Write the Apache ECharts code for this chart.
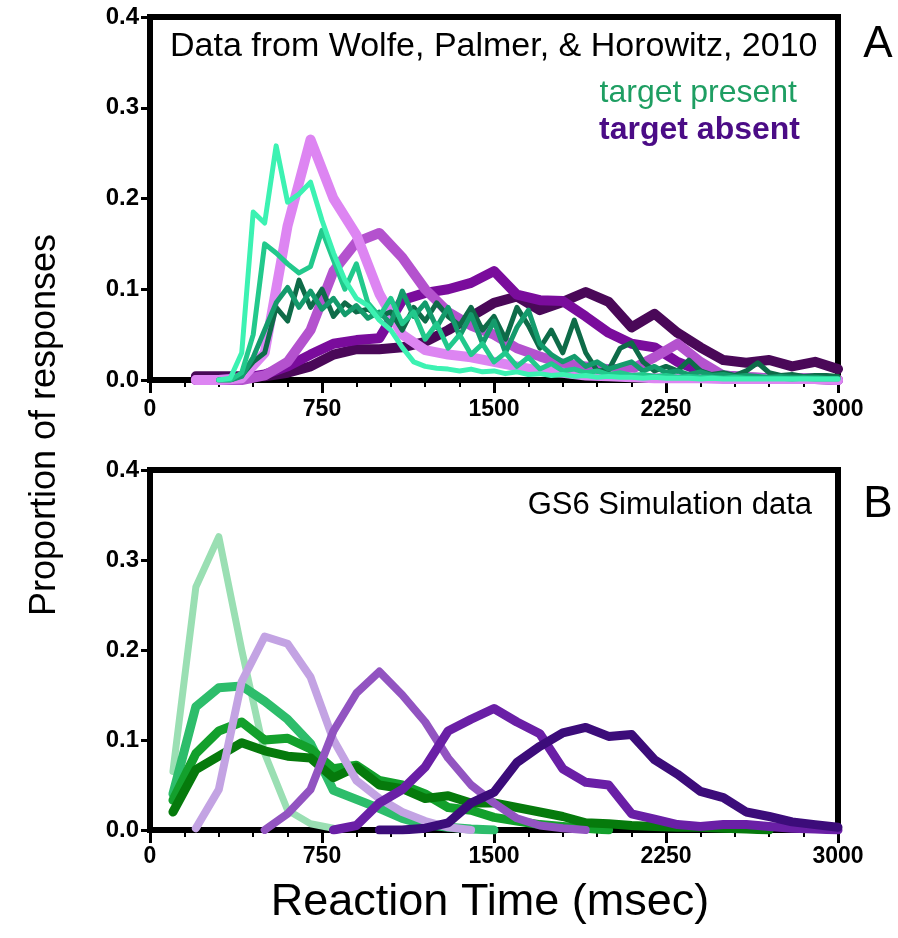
<!DOCTYPE html>
<html><head><meta charset="utf-8">
<script src="https://cdn.jsdelivr.net/npm/echarts@6/dist/echarts.min.js"></script>
<style>html,body{margin:0;padding:0;background:#fff}#c{width:898px;height:938px}</style>
</head><body><div id="c"></div><script>
// ---------- Tick labels ----------
const xTickValues = [0, 750, 1500, 2250, 3000];
const yTickValues = [0.0, 0.1, 0.2, 0.3, 0.4];

// ---------- Panel A: data (Wolfe, Palmer & Horowitz, 2010) ----------
// target present: 50 ms bins
const aPresentX = [300,350,400,450,500,550,600,650,700,750,800,850,900,950,1000,1050,1100,1150,1200,1250,1300,1350,1400,1450,1500,1550,1600,1650,1700,1750,1800,1850,1900,1950,2000,2050,2100,2150,2200,2250,2300,2350,2400,2450,2500,2550,2600,2650,2700,2750,2800,2850,2900,2950,3000];
const aPresent1 = [0,0.002,0.03,0.185,0.173,0.258,0.196,0.205,0.218,0.176,0.14,0.11,0.09,0.082,0.066,0.055,0.036,0.02,0.015,0.013,0.012,0.01,0.012,0.009,0.01,0.007,0.009,0.006,0.007,0.005,0.006,0.004,0.005,0.003,0.004,0.003,0.003,0.002,0.003,0.002,0.002,0.002,0.001,0.002,0.001,0.001,0.001,0.001,0.001,0.001,0.001,0.001,0.001,0.001,0.001];
const aPresent2 = [0,0,0.008,0.05,0.15,0.14,0.128,0.118,0.125,0.165,0.132,0.1,0.128,0.085,0.07,0.09,0.062,0.075,0.045,0.062,0.035,0.05,0.028,0.04,0.02,0.03,0.015,0.025,0.012,0.018,0.01,0.012,0.008,0.01,0.006,0.008,0.005,0.006,0.004,0.005,0.003,0.004,0.003,0.003,0.002,0.003,0.002,0.002,0.002,0.002,0.001,0.002,0.001,0.001,0.001];
const aPresent3 = [0,0,0.004,0.025,0.055,0.085,0.102,0.08,0.098,0.078,0.09,0.072,0.082,0.068,0.075,0.062,0.098,0.07,0.085,0.058,0.08,0.048,0.072,0.04,0.065,0.03,0.058,0.077,0.04,0.028,0.02,0.026,0.015,0.02,0.012,0.016,0.02,0.01,0.015,0.008,0.01,0.006,0.009,0.005,0.006,0.004,0.005,0.004,0.003,0.004,0.003,0.003,0.003,0.002,0.002];
const aPresent4 = [0,0,0.005,0.02,0.03,0.08,0.065,0.11,0.08,0.1,0.07,0.085,0.075,0.078,0.07,0.075,0.055,0.08,0.065,0.085,0.07,0.06,0.08,0.055,0.07,0.045,0.08,0.06,0.035,0.055,0.03,0.066,0.03,0.01,0.011,0.035,0.041,0.02,0.01,0.015,0.01,0.022,0.01,0.006,0.008,0.005,0.01,0.019,0.008,0.005,0.006,0.004,0.005,0.005,0.004];
// target absent: 100 ms bins
const aAbsentX = [200,300,400,500,600,700,800,900,1000,1100,1200,1300,1400,1500,1600,1700,1800,1900,2000,2100,2200,2300,2400,2500,2600,2700,2800,2900,3000];
const aAbsent1 = [0,0,0.002,0.03,0.17,0.265,0.2,0.16,0.095,0.05,0.033,0.028,0.025,0.02,0.015,0.01,0.008,0.005,0.004,0.003,0.002,0.002,0.002,0.001,0.001,0.001,0.001,0.001,0];
const aAbsent2 = [0,0,0,0.005,0.02,0.055,0.12,0.152,0.162,0.135,0.1,0.075,0.06,0.05,0.035,0.026,0.018,0.015,0.012,0.012,0.025,0.04,0.02,0.005,0.003,0.002,0.002,0.002,0];
const aAbsent3 = [0,0,0.002,0.006,0.015,0.028,0.04,0.044,0.046,0.088,0.096,0.1,0.107,0.12,0.094,0.088,0.087,0.07,0.052,0.04,0.036,0.02,0.01,0.005,0.003,0.002,0.002,0.001,0];
const aAbsent4 = [0.004,0.004,0.004,0.004,0.008,0.015,0.028,0.034,0.034,0.036,0.042,0.055,0.07,0.085,0.092,0.077,0.086,0.097,0.086,0.058,0.073,0.052,0.036,0.022,0.019,0.022,0.015,0.02,0.012];

// ---------- Panel B: GS6 simulation data (100 ms bins) ----------
const bX = [100,200,300,400,500,600,700,800,900,1000,1100,1200,1300,1400,1500,1600,1700,1800,1900,2000,2100,2200,2300,2400,2500,2600,2700,2800,2900,3000];
const bPresent1 = [0.065,0.27,0.326,0.2,0.085,0.022,0.007,0.002,null,null,null,null,null,null,null,null,null,null,null,null,null,null,null,null,null,null,null,null,null,null];
const bPresent2 = [0.04,0.137,0.158,0.16,0.143,0.123,0.096,0.044,0.034,0.024,0.013,0.006,0.003,0.001,0,null,null,null,null,null,null,null,null,null,null,null,null,null,null,null];
const bPresent3 = [0.033,0.085,0.11,0.12,0.1,0.102,0.09,0.068,0.072,0.055,0.05,0.04,0.025,0.022,0.014,0.01,0.006,0.004,0.002,0,null,null,null,null,null,null,null,null,null,null];
const bPresent4 = [0.02,0.067,0.082,0.097,0.088,0.082,0.08,0.058,0.07,0.05,0.046,0.035,0.038,0.03,0.03,0.025,0.02,0.015,0.008,0.007,0.005,0.004,0.003,0.003,0.002,0.001,0,null,null,null];
const bAbsent1 = [null,0.002,0.045,0.165,0.215,0.207,0.17,0.1,0.055,0.035,0.02,0.01,0.003,0,null,null,null,null,null,null,null,null,null,null,null,null,null,null,null,null];
const bAbsent2 = [null,null,null,null,0,0.018,0.045,0.11,0.152,0.176,0.15,0.12,0.08,0.05,0.03,0.013,0.005,0.002,0,null,null,null,null,null,null,null,null,null,null,null];
const bAbsent3 = [null,null,null,null,null,null,null,0,0.005,0.03,0.045,0.07,0.11,0.123,0.135,0.12,0.107,0.068,0.053,0.05,0.018,0.012,0.006,0.004,0.006,0.006,0.004,0.002,0.001,0];
const bAbsent4 = [null,null,null,null,null,null,null,null,null,0,0,0.002,0.008,0.03,0.042,0.075,0.093,0.108,0.114,0.104,0.106,0.078,0.062,0.043,0.036,0.02,0.015,0.009,0.006,0.003];

const FONT = '"Liberation Sans", Arial, Helvetica, sans-serif';
function pairs(xs, ys) { return xs.map((x, i) => [x, ys[i] == null ? null : ys[i]]); }
function line(grid, xs, ys, color, width, z) {
  return { type: 'line', xAxisIndex: grid, yAxisIndex: grid, data: pairs(xs, ys), showSymbol: false, symbol: 'none',
    connectNulls: false, animation: false, z: z,
    lineStyle: { color: color, width: width, join: 'round', cap: 'round' } };
}
function xAx(grid, margin) {
  return { gridIndex: grid, type: 'value', min: xTickValues[0], max: xTickValues[xTickValues.length - 1],
    interval: xTickValues[1] - xTickValues[0],
    axisLine: { show: false }, splitLine: { show: false },
    axisTick: { show: true, length: 13, lineStyle: { color: '#000', width: 3 } },
    minorTick: { show: true, splitNumber: 5, length: 7, lineStyle: { color: '#000', width: 2 } },
    axisLabel: { fontSize: 23, fontWeight: 'bold', color: '#000', fontFamily: FONT, margin: margin,
      formatter: v => String(v) } };
}
function yAx(grid) {
  return { gridIndex: grid, type: 'value', min: yTickValues[0], max: yTickValues[yTickValues.length - 1],
    interval: yTickValues[1] - yTickValues[0],
    axisLine: { show: false }, splitLine: { show: false },
    axisTick: { show: true, length: 9, lineStyle: { color: '#000', width: 3 } },
    axisLabel: { fontSize: 24, fontWeight: 'bold', color: '#000', fontFamily: FONT, margin: 11,
      formatter: v => v.toFixed(1) } };
}
function txt(x, y, text, size, color, align, weight, rot) {
  return { type: 'text', x: x, y: y, rotation: rot || 0, z: 100,
    style: { text: text, x: 0, y: 0, fill: color, align: align, textAlign: align,
      verticalAlign: 'middle', textVerticalAlign: 'middle',
      font: (weight || 'normal') + ' ' + size + 'px ' + FONT } };
}

const chart = echarts.init(document.getElementById('c'), null, { renderer: 'canvas' });
chart.setOption({
  backgroundColor: '#fff',
  animation: false,
  grid: [
    { left: 150, top: 17, width: 688, height: 363, show: true, borderColor: '#000', borderWidth: 6, backgroundColor: '#fff' },
    { left: 150, top: 470, width: 688, height: 360, show: true, borderColor: '#000', borderWidth: 6, backgroundColor: '#fff' }
  ],
  xAxis: [xAx(0, 18), xAx(1, 15)],
  yAxis: [yAx(0), yAx(1)],
  series: [
    line(0, aAbsentX, aAbsent4, '#4A0858', 10, 2),
    line(0, aAbsentX, aAbsent3, '#7A0C9C', 10, 2),
    line(0, aAbsentX, aAbsent2, '#B452CE', 10, 2),
    line(0, aAbsentX, aAbsent1, '#DD85F2', 10, 2),
    line(0, aPresentX, aPresent4, '#0E6B48', 5, 3),
    line(0, aPresentX, aPresent3, '#149B6C', 5, 3),
    line(0, aPresentX, aPresent2, '#22C98C', 5, 3),
    line(0, aPresentX, aPresent1, '#3CF2B2', 5, 3),
    line(1, bX, bPresent1, '#9ADFB3', 7, 2),
    line(1, bX, bPresent2, '#2DBD6B', 9, 2),
    line(1, bX, bPresent3, '#13A02C', 9, 2),
    line(1, bX, bPresent4, '#067A0C', 9, 2),
    line(1, bX, bAbsent1, '#C3A3E3', 8, 3),
    line(1, bX, bAbsent2, '#9254C1', 8, 3),
    line(1, bX, bAbsent3, '#6A1FA6', 9, 3),
    line(1, bX, bAbsent4, '#3C0C7A', 9, 3)
  ],
  graphic: [
    txt(170, 47, 'Data from Wolfe, Palmer, & Horowitz, 2010', 34, '#000', 'left'),
    txt(797, 93, 'target present', 32, '#1E9E62', 'right'),
    txt(800, 130, 'target absent', 32, '#4B0C86', 'right', 'bold'),
    txt(878, 45, 'A', 44, '#000', 'center'),
    txt(812, 505, 'GS6 Simulation data', 31, '#000', 'right'),
    txt(878, 505, 'B', 44, '#000', 'center'),
    txt(45, 425, 'Proportion of responses', 36, '#000', 'center', 'normal', Math.PI / 2),
    txt(490, 903, 'Reaction Time (msec)', 45, '#000', 'center')
  ]
});
</script></body></html>
